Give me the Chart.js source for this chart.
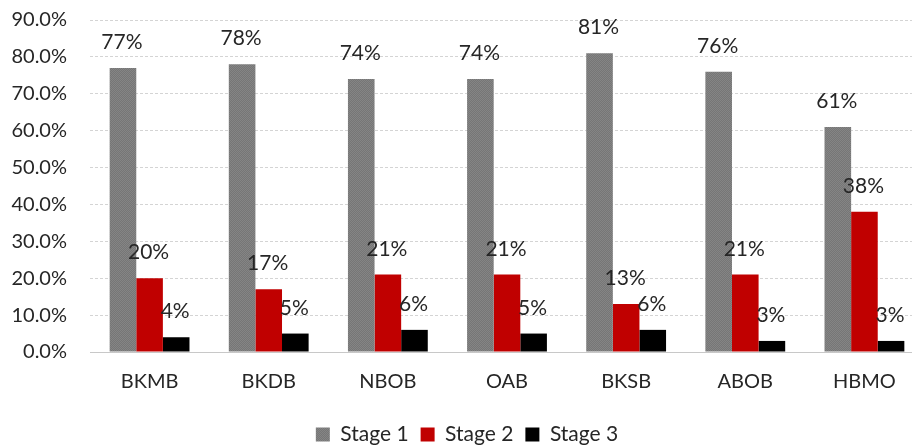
<!DOCTYPE html>
<html>
<head>
<meta charset="utf-8">
<script src="https://cdn.jsdelivr.net/npm/chart.js@4/dist/chart.umd.min.js"></script>
<style>
    html, body { margin: 0; padding: 0; background: #ffffff; overflow: hidden; }
    /* el área del gráfico original sigue un poco más allá del borde derecho y superior */
    #wrap { width: 924px; height: 474px; position: relative; top: -15px; }
</style>
</head>
<body>
<div id="wrap"><canvas id="grafico"></canvas></div>
<script>
// ---- datos ----
const categorias = ['BKMB', 'BKDB', 'NBOB', 'OAB', 'BKSB', 'ABOB', 'HBMO'];
const etapa1 = [77, 78, 74, 74, 81, 76, 61];
const etapa2 = [20, 17, 21, 21, 13, 21, 38];
const etapa3 = [4, 5, 6, 5, 6, 3, 3];
const nombresSeries = ['Stage 1', 'Stage 2', 'Stage 3'];
const ticksY = [0, 10, 20, 30, 40, 50, 60, 70, 80, 90];

const FUENTE = 'Lato, "Liberation Sans", sans-serif';

// textura gris punteada de la serie 1
function patronGris() {
    const c = document.createElement('canvas');
    c.width = 2; c.height = 2;
    const g = c.getContext('2d');
    g.fillStyle = '#858585'; g.fillRect(0, 0, 2, 2);
    g.fillStyle = '#767676'; g.fillRect(0, 0, 1, 1); g.fillRect(1, 1, 1, 1);
    return g.createPattern(c, 'repeat');
}

// etiquetas de valor encima de cada barra
const etiquetasBarras = {
    id: 'etiquetasBarras',
    afterDatasetsDraw(chart) {
        const ctx = chart.ctx;
        ctx.save();
        ctx.font = '21px ' + FUENTE;
        ctx.fillStyle = '#262626';
        ctx.textAlign = 'center';
        ctx.textBaseline = 'alphabetic';
        chart.data.datasets.forEach((ds, i) => {
            chart.getDatasetMeta(i).data.forEach((barra, j) => {
                ctx.fillText(ds.data[j] + '%', barra.x - 1, barra.y - 19);
            });
        });
        ctx.restore();
    }
};

new Chart(document.getElementById('grafico'), {
    type: 'bar',
    data: {
        labels: categorias,
        datasets: [
            { label: nombresSeries[0], data: etapa1, backgroundColor: patronGris() },
            { label: nombresSeries[1], data: etapa2, backgroundColor: '#c00000' },
            { label: nombresSeries[2], data: etapa3, backgroundColor: '#000000' },
        ]
    },
    options: {
        responsive: true, maintainAspectRatio: false, animation: false,
        devicePixelRatio: 1,
        layout: { padding: { left: 10, right: 0, top: 0, bottom: 4 } },
        datasets: { bar: { categoryPercentage: 0.67, barPercentage: 1 } },
        plugins: {
            legend: {
                position: 'bottom',
                labels: {
                    color: '#262626', font: { family: FUENTE, size: 21 },
                    boxWidth: 14, boxHeight: 14, padding: 12
                }
            },
            tooltip: { enabled: false }
        },
        scales: {
            x: {
                grid: { display: false, drawTicks: false },
                border: { color: '#c8c8c8', width: 1 },
                ticks: { color: '#262626', font: { family: FUENTE, size: 20 }, padding: 18 }
            },
            y: {
                min: 0, max: 90,
                afterFit(s) { s.width = 80; },
                afterBuildTicks(s) { s.ticks = ticksY.map(v => ({ value: v })); },
                grid: { color: '#d4d4d4', drawTicks: false, tickLength: 0 },
                border: { display: false, dash: [3, 2] },
                ticks: {
                    color: '#262626', font: { family: FUENTE, size: 20 }, padding: 23,
                    callback: v => v.toFixed(1) + '%'
                }
            }
        }
    },
    plugins: [etiquetasBarras]
});
</script>
</body>
</html>
